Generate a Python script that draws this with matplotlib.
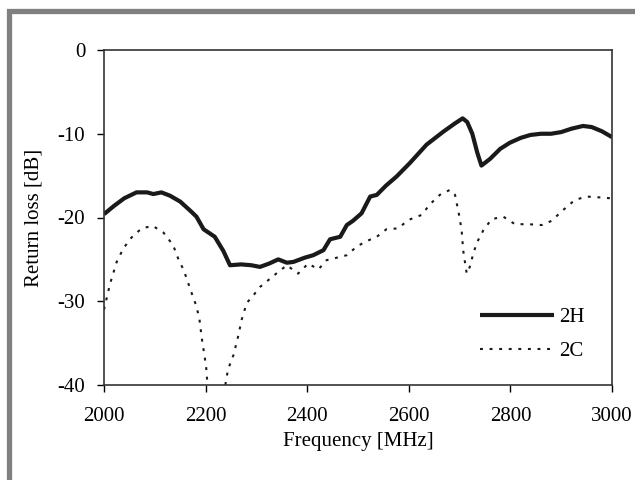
import matplotlib
matplotlib.use("Agg")
import matplotlib.pyplot as plt
from matplotlib.patches import Rectangle

plt.rcParams['font.family'] = ['Liberation Serif', 'DejaVu Serif']
plt.rcParams['axes.unicode_minus'] = False

freq_2h = [2000, 2020, 2040, 2064, 2085, 2097, 2113, 2130, 2150, 2170, 2182, 2196, 2218, 2235,
           2248, 2270, 2290, 2307, 2325, 2343, 2360, 2373, 2395, 2412, 2432, 2445, 2465, 2478,
           2490, 2507, 2524, 2537, 2555, 2576, 2602, 2635, 2668, 2690, 2706, 2715, 2725, 2735,
           2743, 2760, 2780, 2799, 2820, 2839, 2860, 2880, 2900, 2920, 2943, 2960, 2980, 3000]
rl_2h = [-19.6, -18.6, -17.7, -17.0, -17.0, -17.2, -17.0, -17.4, -18.1, -19.2, -19.9, -21.4, -22.3, -24.0,
         -25.7, -25.6, -25.7, -25.9, -25.5, -25.0, -25.4, -25.3, -24.8, -24.5, -23.9, -22.6, -22.3, -20.9,
         -20.4, -19.5, -17.5, -17.3, -16.2, -15.1, -13.5, -11.3, -9.75, -8.8, -8.16, -8.6, -10.0, -12.3,
         -13.8, -13.0, -11.8, -11.07, -10.5, -10.15, -10.0, -10.0, -9.8, -9.4, -9.07, -9.2, -9.7, -10.4]

freq_2c = [2000, 2005, 2012, 2025, 2038, 2054, 2074, 2096, 2117, 2136, 2146, 2157, 2173, 2182,
           2188, 2192, 2197, 2201, 2203, 2212, 2222, 2232, 2240, 2245, 2255, 2264, 2271, 2281,
           2294, 2307, 2327, 2343, 2360, 2382, 2402, 2422, 2438, 2458, 2478, 2497, 2514, 2537,
           2556, 2579, 2599, 2625, 2642, 2661, 2681, 2691, 2699, 2704, 2707, 2714, 2720, 2727,
           2734, 2747, 2763, 2786, 2809, 2835, 2862, 2881, 2904, 2927, 2950, 2976, 2996]
rl_2c = [-31.0, -29.7, -27.9, -25.3, -23.7, -22.4, -21.3, -21.0, -21.8, -23.3, -24.9, -26.3, -29.1, -30.6,
         -32.2, -34.2, -36.2, -37.8, -39.4, -45.0, -48.0, -45.0, -39.4, -38.0, -36.4, -34.2, -32.2, -30.2,
         -29.3, -28.3, -27.3, -26.5, -25.7, -26.7, -25.5, -26.2, -25.1, -24.8, -24.5, -23.5, -22.9, -22.3,
         -21.4, -21.3, -20.3, -19.7, -18.4, -17.3, -16.7, -17.3, -19.7, -21.5, -23.9, -26.7, -25.9, -24.3,
         -23.0, -21.5, -20.2, -19.9, -20.8, -20.8, -20.9, -20.4, -19.1, -17.9, -17.5, -17.6, -17.7]

x_ticks = [2000, 2200, 2400, 2600, 2800, 3000]
y_ticks = [0, -10, -20, -30, -40]

W, H = 635, 480
fig = plt.figure(figsize=(W / 100, H / 100), dpi=100)
fig.patches.append(Rectangle((8.5 / W, -0.1), 1.2, 1 - 11 / H + 0.1, transform=fig.transFigure,
                             fill=False, edgecolor='#808080', linewidth=3.8, zorder=0))

ax = fig.add_axes([104 / W, 1 - 385 / H, 508 / W, 335 / H])
ax.plot(freq_2h, rl_2h, color='#1a1a1a', linewidth=3.0, label='2H', solid_capstyle='butt')
ax.plot(freq_2c, rl_2c, color='#1a1a1a', linewidth=1.5, linestyle=(0, (1.4, 3.2)), label='2C')

ax.set_xlim(2000, 3000)
ax.set_ylim(-40, 0)
ax.set_xticks(x_ticks)
ax.set_yticks(y_ticks)
ax.set_xticklabels([str(v) for v in x_ticks])
ax.set_yticklabels([str(v) for v in y_ticks])
ax.tick_params(axis='both', direction='out', length=5, width=1, labelsize=15, colors='black')
ax.tick_params(axis='x', pad=11)
ax.tick_params(axis='y', pad=8.5)
for s in ax.spines.values():
    s.set_linewidth(1.2)
    s.set_color('#333333')

ax.set_xlabel('Frequency [MHz]', fontsize=15, labelpad=4)
ax.set_ylabel('Return loss [dB]', fontsize=15, labelpad=10)

leg = ax.legend(loc='lower right', bbox_to_anchor=((585 - 104) / 508, (385 - 361) / 335),
                frameon=False, fontsize=15, borderpad=0, borderaxespad=0,
                handlelength=3.55, handletextpad=0.25, labelspacing=0.7)

fig.savefig('out.png', dpi=100)
